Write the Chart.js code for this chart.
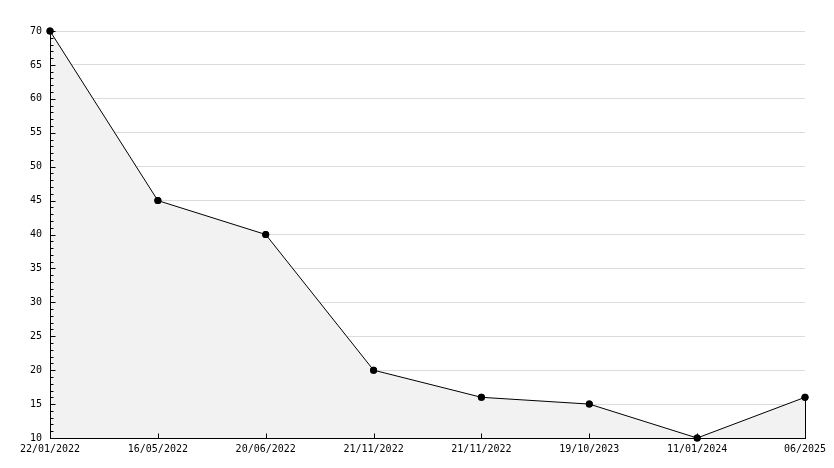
<!DOCTYPE html>
<html>
<head>
<meta charset="utf-8">
<script src="https://cdn.jsdelivr.net/npm/chart.js@4/dist/chart.umd.min.js"></script>
<style>
  html, body { margin: 0; padding: 0; background: #fff; }
  #wrap { width: 834px; height: 468px; }
</style>
</head>
<body>
<div id="wrap"><canvas id="c"></canvas></div>
<script>
// données
const dates = ['22/01/2022', '16/05/2022', '20/06/2022', '21/11/2022', '21/11/2022', '19/10/2023', '11/01/2024', '06/2025'];
const valeurs = [70, 45, 40, 20, 16, 15, 10, 16];
const yMin = 10, yMax = 70, yPas = 5;

// axes, petites graduations et trait vertical à droite de l'aire
const graduations = {
  id: 'graduations',
  afterDatasetsDraw(chart) {
    const { ctx, chartArea: a, scales: { x, y } } = chart;
    const gauche = Math.round(a.left) + 0.5;
    const bas = Math.round(a.bottom) + 0.5;
    ctx.save();
    ctx.strokeStyle = '#000';
    ctx.lineWidth = 1;
    ctx.beginPath();
    ctx.moveTo(gauche, a.top);
    ctx.lineTo(gauche, bas);
    ctx.lineTo(a.right, bas);
    for (let v = yMin; v <= yMax; v++) {
      const py = Math.round(y.getPixelForValue(v)) + 0.5;
      const len = v % yPas === 0 ? 5 : 3;
      ctx.moveTo(gauche, py);
      ctx.lineTo(gauche + len, py);
    }
    dates.forEach((_, i) => {
      const px = Math.round(x.getPixelForValue(i)) + 0.5;
      ctx.moveTo(px, bas);
      ctx.lineTo(px, bas - 5);
    });
    const last = chart.getDatasetMeta(0).data[valeurs.length - 1];
    const lx = Math.round(last.x) + 0.5;
    ctx.moveTo(lx, last.y);
    ctx.lineTo(lx, bas);
    ctx.stroke();
    // repeindre les points par-dessus
    ctx.fillStyle = '#000';
    chart.getDatasetMeta(0).data.forEach(p => {
      ctx.beginPath();
      ctx.arc(p.x, p.y, 3.5, 0, Math.PI * 2);
      ctx.fill();
    });
    ctx.restore();
  }
};

const police = { family: 'DejaVu Sans Mono', size: 10 };

new Chart(document.getElementById('c'), {
  type: 'line',
  data: {
    labels: dates,
    datasets: [{
      data: valeurs,
      borderColor: '#000',
      borderWidth: 1,
      backgroundColor: '#f2f2f2',
      fill: 'start',
      tension: 0,
      clip: false,
      pointRadius: 3.5,
      pointStyle: 'circle',
      pointBackgroundColor: '#000',
      pointBorderColor: '#000',
      pointBorderWidth: 0,
    }],
  },
  options: {
    responsive: true,
    maintainAspectRatio: false,
    animation: false,
    layout: { padding: { top: 31, right: 29, left: 0, bottom: 0 } },
    plugins: { legend: { display: false }, tooltip: { enabled: false } },
    scales: {
      x: {
        offset: false,
        grid: { display: false, drawTicks: false },
        border: { display: true, color: '#000', width: 1 },
        ticks: { color: '#000', font: police, padding: 5, maxRotation: 0, autoSkip: false },
        afterFit: s => { s.height = 30; },
      },
      y: {
        min: yMin,
        max: yMax,
        grid: { color: '#dcdcdc', lineWidth: 1, drawTicks: false },
        border: { display: true, color: '#000', width: 1 },
        ticks: { stepSize: yPas, color: '#000', font: police, padding: 8 },
        afterFit: s => { s.width = 50; },
      },
    },
  },
  plugins: [graduations],
});
</script>
</body>
</html>
